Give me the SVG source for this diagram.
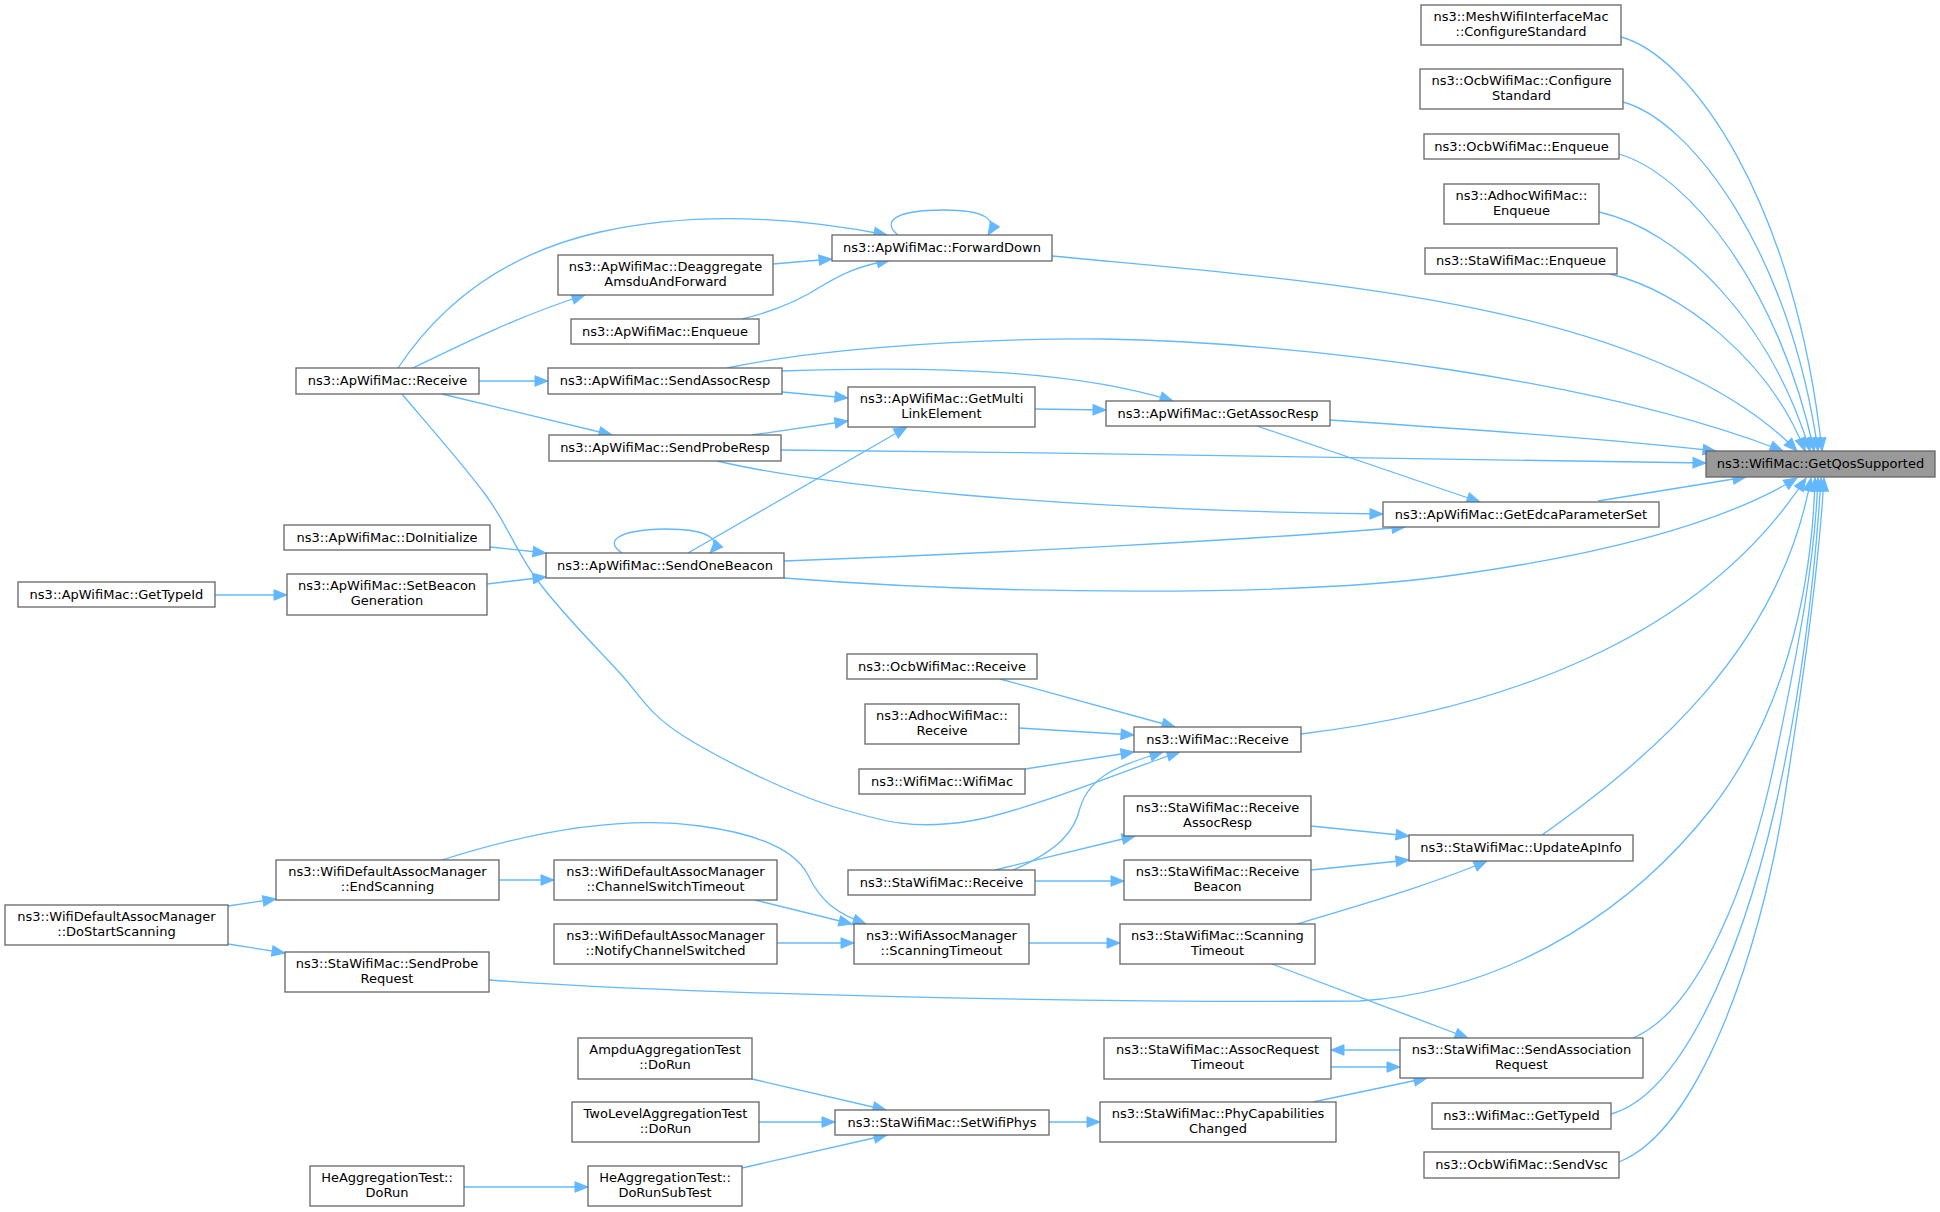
<svg xmlns="http://www.w3.org/2000/svg" width="1940" height="1212" viewBox="0 0 1940 1212">
<style>
.n rect{fill:#ffffff;stroke:#666666;stroke-width:1.3}
.n.r rect{fill:#999999}
text{font-family:"DejaVu Sans","Liberation Sans",sans-serif;font-size:13px;text-anchor:middle;fill:#000000}
#edges path{fill:none;stroke:#63b8ff;stroke-width:1.3;marker-end:url(#a)}
</style>
<defs>
<marker id="a" markerUnits="userSpaceOnUse" markerWidth="14" markerHeight="11" refX="13" refY="5.25" orient="auto" overflow="visible">
<path d="M0,0 L13,5.25 L0,10.5 z" fill="#63b8ff" stroke="#63b8ff" stroke-width="1"/>
</marker>
</defs>
<rect x="0" y="0" width="1940" height="1212" fill="#ffffff"/>
<g id="edges">
<path d="M1621,37 C1690,55 1795,200 1822,451"/>
<path d="M1623,102 C1690,120 1790,250 1818,451"/>
<path d="M1619,154 C1690,175 1780,290 1814,451"/>
<path d="M1599,212 C1680,230 1770,320 1810,451"/>
<path d="M1610,274 C1680,290 1770,360 1805,451"/>
<path d="M1052,256 C1300,280 1650,300 1797,451"/>
<path d="M727,368 C800,352 950,338 1103,339 C1300,342 1600,380 1783,451"/>
<path d="M1330,420 C1450,428 1600,438 1716,451"/>
<path d="M781,450 C1100,453 1450,459 1706,463"/>
<path d="M1598,501 L1746,477"/>
<path d="M784,578 C1000,595 1300,597 1455,575 C1600,555 1720,525 1797,478"/>
<path d="M1301,734 C1500,710 1700,640 1806,478"/>
<path d="M1542,835 C1650,758 1780,650 1811,478"/>
<path d="M489,980 C700,995 1100,1003 1360,1001 C1520,990 1640,900 1712,808 C1780,720 1812,600 1815,478"/>
<path d="M1633,1038 C1700,1010 1750,880 1775,760 C1800,640 1815,560 1818,478"/>
<path d="M1611,1114 C1680,1095 1740,960 1775,808 C1800,700 1815,580 1821,478"/>
<path d="M1619,1162 C1700,1130 1760,950 1783,808 C1800,700 1818,580 1824,478"/>
<path d="M898,235 C882,222 893,210 944,210 C984,210 998,219 988,235"/>
<path d="M773,264 L832,259"/>
<path d="M742,319 C775,311 800,300 820,287 C845,272 860,266 890,260"/>
<path d="M398,368 C450,290 520,250 600,232 C700,210 800,218 887,235"/>
<path d="M413,368 C450,350 520,315 585,295"/>
<path d="M479,381 L548,381"/>
<path d="M442,394 L612,435"/>
<path d="M402,394 C416,411 462,463 485,494 C508,525 516,552 538,581 C560,611 594,645 618,671 C642,697 648,714 685,737 C722,760 791,794 838,808 C885,822 914,830 970,821 C1026,812 1141,764 1180,752"/>
<path d="M782,392 L848,398"/>
<path d="M752,435 L848,421"/>
<path d="M688,553 L907,427"/>
<path d="M1035,409 L1106,410"/>
<path d="M782,371 C950,365 1080,372 1173,401"/>
<path d="M1257,426 L1480,502"/>
<path d="M717,461 C820,485 1050,510 1383,514"/>
<path d="M784,561 C1000,553 1250,540 1405,527"/>
<path d="M490,547 L546,553"/>
<path d="M487,584 L546,577"/>
<path d="M622,553 C605,542 615,530 665,529 C710,529 722,540 710,553"/>
<path d="M215,595 L287,595"/>
<path d="M1000,679 L1175,727"/>
<path d="M1019,728 L1134,735"/>
<path d="M1025,769 L1134,752"/>
<path d="M1013,870 C1060,850 1075,830 1080,808 C1090,775 1120,765 1163,752"/>
<path d="M995,870 L1135,836"/>
<path d="M1035,881 L1124,881"/>
<path d="M1311,826 L1409,836"/>
<path d="M1311,870 L1409,860"/>
<path d="M1297,924 C1370,902 1430,885 1487,861"/>
<path d="M1272,964 L1468,1038"/>
<path d="M1029,943 L1120,943"/>
<path d="M755,900 L852,924"/>
<path d="M777,943 L854,943"/>
<path d="M442,860 C530,832 620,815 700,826 C760,834 795,850 808,875 C820,900 835,913 866,924"/>
<path d="M499,880 L554,880"/>
<path d="M228,906 L276,899"/>
<path d="M228,944 L285,953"/>
<path d="M1400,1050 L1331,1050"/>
<path d="M1331,1067 L1400,1067"/>
<path d="M1313,1102 L1427,1078"/>
<path d="M1049,1122 L1100,1122"/>
<path d="M752,1079 L886,1110"/>
<path d="M759,1122 L835,1122"/>
<path d="M742,1168 L887,1135"/>
<path d="M464,1187 L588,1187"/>
</g>
<g id="root" class="n r"><rect x="1706" y="451" width="229" height="26"/><text x="1820.5" y="468">ns3::WifiMac::GetQosSupported</text></g>
<g id="mesh" class="n"><rect x="1421" y="5" width="200" height="40"/><text x="1521" y="21">ns3::MeshWifiInterfaceMac</text><text x="1521" y="36">::ConfigureStandard</text></g>
<g id="ocbCfg" class="n"><rect x="1420" y="69" width="203" height="40"/><text x="1521.5" y="85">ns3::OcbWifiMac::Configure</text><text x="1521.5" y="100">Standard</text></g>
<g id="ocbEnq" class="n"><rect x="1424" y="134" width="195" height="25"/><text x="1521.5" y="151">ns3::OcbWifiMac::Enqueue</text></g>
<g id="adhocEnq" class="n"><rect x="1444" y="184" width="155" height="40"/><text x="1521.5" y="200">ns3::AdhocWifiMac::</text><text x="1521.5" y="215">Enqueue</text></g>
<g id="staEnq" class="n"><rect x="1425" y="248" width="192" height="26"/><text x="1521" y="265">ns3::StaWifiMac::Enqueue</text></g>
<g id="fwd" class="n"><rect x="832" y="235" width="220" height="26"/><text x="942" y="252">ns3::ApWifiMac::ForwardDown</text></g>
<g id="deagg" class="n"><rect x="558" y="255" width="215" height="40"/><text x="665.5" y="271">ns3::ApWifiMac::Deaggregate</text><text x="665.5" y="286">AmsduAndForward</text></g>
<g id="apEnq" class="n"><rect x="571" y="319" width="188" height="25"/><text x="665" y="336">ns3::ApWifiMac::Enqueue</text></g>
<g id="apRecv" class="n"><rect x="296" y="368" width="183" height="26"/><text x="387.5" y="385">ns3::ApWifiMac::Receive</text></g>
<g id="sendAssoc" class="n"><rect x="548" y="368" width="234" height="26"/><text x="665" y="385">ns3::ApWifiMac::SendAssocResp</text></g>
<g id="multi" class="n"><rect x="848" y="387" width="187" height="40"/><text x="941.5" y="403">ns3::ApWifiMac::GetMulti</text><text x="941.5" y="418">LinkElement</text></g>
<g id="getAssoc" class="n"><rect x="1106" y="401" width="224" height="25"/><text x="1218" y="418">ns3::ApWifiMac::GetAssocResp</text></g>
<g id="probeResp" class="n"><rect x="549" y="435" width="232" height="26"/><text x="665" y="452">ns3::ApWifiMac::SendProbeResp</text></g>
<g id="edca" class="n"><rect x="1383" y="502" width="276" height="25"/><text x="1521" y="519">ns3::ApWifiMac::GetEdcaParameterSet</text></g>
<g id="doInit" class="n"><rect x="284" y="525" width="206" height="25"/><text x="387" y="542">ns3::ApWifiMac::DoInitialize</text></g>
<g id="setBeacon" class="n"><rect x="287" y="574" width="200" height="41"/><text x="387" y="590">ns3::ApWifiMac::SetBeacon</text><text x="387" y="605">Generation</text></g>
<g id="apTypeId" class="n"><rect x="18" y="582" width="197" height="25"/><text x="116.5" y="599">ns3::ApWifiMac::GetTypeId</text></g>
<g id="oneBeacon" class="n"><rect x="546" y="553" width="238" height="25"/><text x="665" y="570">ns3::ApWifiMac::SendOneBeacon</text></g>
<g id="ocbRecv" class="n"><rect x="847" y="654" width="190" height="25"/><text x="942" y="671">ns3::OcbWifiMac::Receive</text></g>
<g id="adhocRecv" class="n"><rect x="865" y="704" width="154" height="40"/><text x="942" y="720">ns3::AdhocWifiMac::</text><text x="942" y="735">Receive</text></g>
<g id="wifiCtor" class="n"><rect x="859" y="769" width="166" height="25"/><text x="942" y="786">ns3::WifiMac::WifiMac</text></g>
<g id="wifiRecv" class="n"><rect x="1134" y="727" width="167" height="25"/><text x="1217.5" y="744">ns3::WifiMac::Receive</text></g>
<g id="recvAssoc" class="n"><rect x="1124" y="796" width="187" height="40"/><text x="1217.5" y="812">ns3::StaWifiMac::Receive</text><text x="1217.5" y="827">AssocResp</text></g>
<g id="updateAp" class="n"><rect x="1409" y="835" width="224" height="26"/><text x="1521" y="852">ns3::StaWifiMac::UpdateApInfo</text></g>
<g id="endScan" class="n"><rect x="276" y="860" width="223" height="40"/><text x="387.5" y="876">ns3::WifiDefaultAssocManager</text><text x="387.5" y="891">::EndScanning</text></g>
<g id="chSwitch" class="n"><rect x="554" y="860" width="223" height="40"/><text x="665.5" y="876">ns3::WifiDefaultAssocManager</text><text x="665.5" y="891">::ChannelSwitchTimeout</text></g>
<g id="staRecv" class="n"><rect x="848" y="870" width="187" height="25"/><text x="941.5" y="887">ns3::StaWifiMac::Receive</text></g>
<g id="recvBeacon" class="n"><rect x="1124" y="860" width="187" height="40"/><text x="1217.5" y="876">ns3::StaWifiMac::Receive</text><text x="1217.5" y="891">Beacon</text></g>
<g id="doStart" class="n"><rect x="5" y="905" width="223" height="40"/><text x="116.5" y="921">ns3::WifiDefaultAssocManager</text><text x="116.5" y="936">::DoStartScanning</text></g>
<g id="notify" class="n"><rect x="554" y="924" width="223" height="40"/><text x="665.5" y="940">ns3::WifiDefaultAssocManager</text><text x="665.5" y="955">::NotifyChannelSwitched</text></g>
<g id="assocScan" class="n"><rect x="854" y="924" width="175" height="40"/><text x="941.5" y="940">ns3::WifiAssocManager</text><text x="941.5" y="955">::ScanningTimeout</text></g>
<g id="staScan" class="n"><rect x="1120" y="924" width="195" height="40"/><text x="1217.5" y="940">ns3::StaWifiMac::Scanning</text><text x="1217.5" y="955">Timeout</text></g>
<g id="probeReq" class="n"><rect x="285" y="952" width="204" height="40"/><text x="387" y="968">ns3::StaWifiMac::SendProbe</text><text x="387" y="983">Request</text></g>
<g id="assocReqTO" class="n"><rect x="1104" y="1038" width="227" height="41"/><text x="1217.5" y="1054">ns3::StaWifiMac::AssocRequest</text><text x="1217.5" y="1069">Timeout</text></g>
<g id="sendAssocReq" class="n"><rect x="1400" y="1038" width="243" height="40"/><text x="1521.5" y="1054">ns3::StaWifiMac::SendAssociation</text><text x="1521.5" y="1069">Request</text></g>
<g id="ampdu" class="n"><rect x="578" y="1038" width="174" height="41"/><text x="665" y="1054">AmpduAggregationTest</text><text x="665" y="1069">::DoRun</text></g>
<g id="twoLevel" class="n"><rect x="572" y="1102" width="187" height="40"/><text x="665.5" y="1118">TwoLevelAggregationTest</text><text x="665.5" y="1133">::DoRun</text></g>
<g id="setWifiPhys" class="n"><rect x="835" y="1110" width="214" height="25"/><text x="942" y="1127">ns3::StaWifiMac::SetWifiPhys</text></g>
<g id="phyCap" class="n"><rect x="1100" y="1102" width="236" height="40"/><text x="1218" y="1118">ns3::StaWifiMac::PhyCapabilities</text><text x="1218" y="1133">Changed</text></g>
<g id="wifiTypeId" class="n"><rect x="1432" y="1103" width="179" height="26"/><text x="1521.5" y="1120">ns3::WifiMac::GetTypeId</text></g>
<g id="heSub" class="n"><rect x="588" y="1166" width="154" height="40"/><text x="665" y="1182">HeAggregationTest::</text><text x="665" y="1197">DoRunSubTest</text></g>
<g id="heRun" class="n"><rect x="310" y="1166" width="154" height="40"/><text x="387" y="1182">HeAggregationTest::</text><text x="387" y="1197">DoRun</text></g>
<g id="sendVsc" class="n"><rect x="1424" y="1152" width="195" height="26"/><text x="1521.5" y="1169">ns3::OcbWifiMac::SendVsc</text></g>
</svg>
